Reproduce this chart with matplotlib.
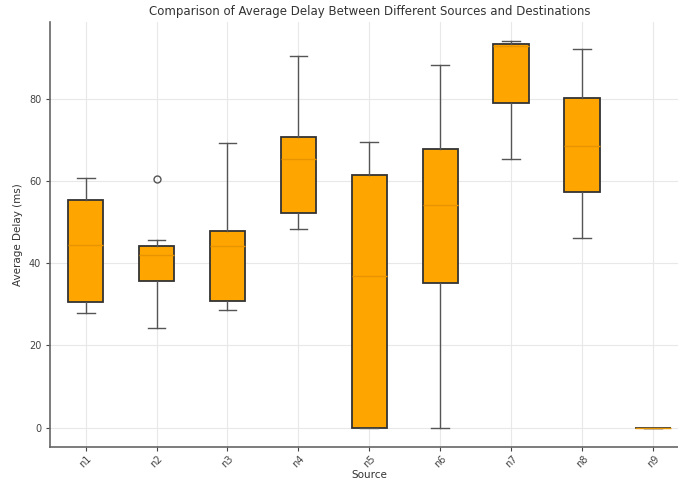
import matplotlib
matplotlib.use("Agg")
import matplotlib.pyplot as plt

sources = ["n1", "n2", "n3", "n4", "n5", "n6", "n7", "n8", "n9"]
whislo = [27.9, 24.2, 28.6, 48.4, 0.0, 0.0, 65.5, 46.2, 0.0]
q1 = [30.6, 35.7, 30.8, 52.3, 0.0, 35.2, 79.2, 57.5, 0.0]
med = [44.5, 42.0, 44.3, 65.5, 36.9, 54.3, 93.0, 68.7, 0.0]
q3 = [55.5, 44.3, 47.9, 70.7, 61.6, 68.0, 93.4, 80.4, 0.0]
whishi = [60.9, 45.7, 69.4, 90.5, 69.7, 88.3, 94.1, 92.2, 0.0]
fliers = [[], [60.6], [], [], [], [], [], [], []]

stats = []
for i, s in enumerate(sources):
    stats.append({"label": s, "whislo": whislo[i], "q1": q1[i], "med": med[i],
                  "q3": q3[i], "whishi": whishi[i], "fliers": fliers[i]})

fig = plt.figure(figsize=(6.78, 4.82), dpi=100)
ax = fig.add_axes([0.074, 0.073, 0.9415, 0.881])

ax.bxp(stats, patch_artist=True, widths=0.5,
       boxprops=dict(facecolor="#FFA500", edgecolor="#333333", linewidth=1.3),
       medianprops=dict(color="#E69500", linewidth=1.0),
       whiskerprops=dict(color="#555555", linewidth=1.0),
       capprops=dict(color="#555555", linewidth=1.0),
       flierprops=dict(marker="o", markerfacecolor="none", markeredgecolor="#555555", markersize=5))

ax.set_xlim(0.5, 9.5)
ax.set_yticks([0, 20, 40, 60, 80])
ax.grid(True, color="#e8e8e8", linewidth=0.8)
ax.set_axisbelow(True)
for side in ["top", "right"]:
    ax.spines[side].set_visible(False)
for side in ["left", "bottom"]:
    ax.spines[side].set_color("#666666")
    ax.spines[side].set_linewidth(1.2)
ax.tick_params(colors="#444444", labelsize=7, length=3)
ax.tick_params(axis="x", pad=2)
plt.setp(ax.get_xticklabels(), rotation=45)

ax.set_title("Comparison of Average Delay Between Different Sources and Destinations",
             fontsize=8.5, color="#333333", pad=5)
ax.set_xlabel("Source", fontsize=7.5, color="#333333", labelpad=0)
ax.set_ylabel("Average Delay (ms)", fontsize=7.5, color="#333333")

fig.savefig("out.png", dpi=100)
